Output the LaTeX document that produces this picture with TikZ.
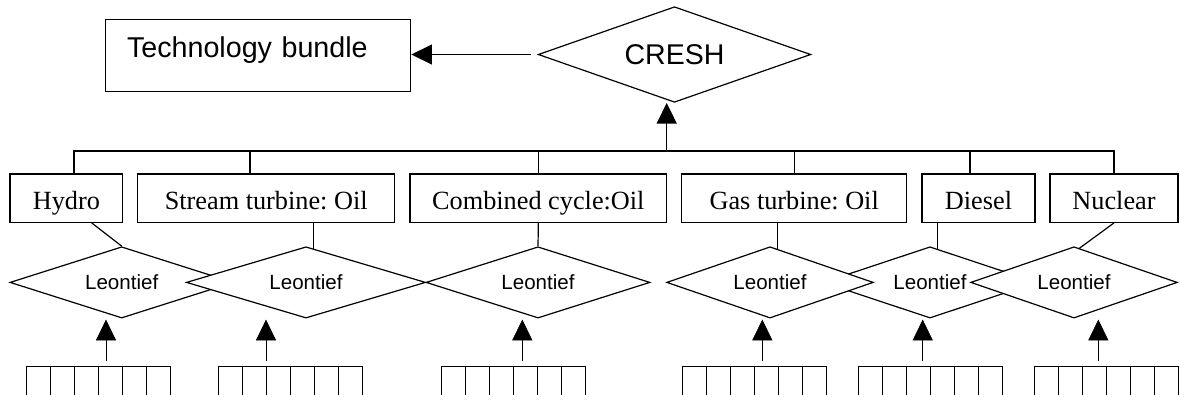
\documentclass[tikz,border=0pt]{standalone}
\usepackage{fontspec}
\setmainfont{Liberation Serif}
\newfontfamily\arialfont{Liberation Sans}
\usetikzlibrary{shapes.geometric,arrows.meta,calc,backgrounds}
\frenchspacing

\begin{document}
\begin{tikzpicture}[x=0.75pt,y=-0.75pt,line width=0.9pt,line join=miter,
    bundle/.style={draw,inner xsep=16pt,text width=196.75pt,align=left,
      minimum height=54.3pt,text depth=12pt,font=\arialfont\fontsize{21.5}{24}\selectfont},
    nest/.style={draw,diamond,shape aspect=2.85,inner sep=0pt,fill=white,
      minimum width=204.5pt,minimum height=71.7pt,font=\arialfont\fontsize{21.4}{24}\selectfont},
    plant/.style={draw,inner sep=0pt,minimum height=36.2pt,text height=18pt,text depth=1.3pt,
      font=\fontsize{19.7}{22}\selectfont},
    leo/.style={draw,diamond,shape aspect=3.1,inner sep=0pt,fill=white,
      minimum height=53.5pt,font=\arialfont\fontsize{15.4}{18}\selectfont},
    link/.style={line width=0.9pt},
    feed/.style={-{Triangle[length=15.5pt,width=15pt]}}]
  \useasboundingbox (0,0) rectangle (1180,394);

  % top level
  \node[bundle] (tech) at (258.2,55.5) {Technology bundle};
  \node[nest] (cresh) at (674.5,54.5) {CRESH};
  \draw[feed,shorten <=5pt] (cresh.west) -- (cresh.west -| tech.east);

  % technologies
  \node[plant,minimum width=84.5pt] (hydro) at (66.35,198.15) {Hydro};
  \node[plant,minimum width=192.75pt] (stream) at (266.2,198.15) {Stream turbine: Oil};
  \node[plant,minimum width=192.5pt] (combined) at (538.35,198.15) {Combined cycle:Oil};
  \node[plant,minimum width=168.75pt] (gas) at (794.2,198.15) {Gas turbine: Oil};
  \node[plant,minimum width=84.75pt] (diesel) at (978.5,198.15) {Diesel};
  \node[plant,minimum width=96pt] (nuclear) at (1114,198.15) {Nuclear};

  \coordinate (j1) at (74,151);
  \coordinate (j2) at (250,151);
  \coordinate (j3) at (538.35,151);
  \coordinate (j4) at (794.2,151);
  \coordinate (j5) at (970,151);
  \coordinate (j6) at (1114,151);
  \coordinate (jc) at (666.7,151);
  \draw (j1 |- hydro.north) -- (j1) -- (j6) -- (j6 |- nuclear.north);
  \draw (j2) -- (j2 |- stream.north);
  \draw (j3) -- (j3 |- combined.north);
  \draw (j4) -- (j4 |- gas.north);
  \draw (j5) -- (j5 |- diesel.north);
  \draw[feed] (jc) -- (jc |- cresh.south);

  % leontief nests
  \node[leo,minimum width=167.6pt] (leo1) at (121.7,282.4) {Leontief};
  \node[leo,minimum width=179.5pt] (leo2) at (306,282.4) {Leontief};
  \node[leo,minimum width=168pt] (leo3) at (538,282.4) {Leontief};
  \node[leo,minimum width=160.5pt] (leo5) at (930,282.4) {Leontief};
  \node[leo,minimum width=155pt] (leo4) at (770,282.4) {Leontief};
  \node[leo,minimum width=155pt] (leo6) at (1074,282.4) {Leontief};

  \begin{pgfonlayer}{background}
    \draw[link] ([xshift=19pt]hydro.south) -- (leo1.north);
    \draw[link] ([xshift=35.3pt]stream.south) -- ++(0,40);
    \draw[link] (combined.south) -- (leo3.north);
    \draw[link] ([xshift=-12.4pt]gas.south) -- ++(0,40);
    \draw[link] ([xshift=-30.6pt]diesel.south) -- ++(0,40);
    \draw[link] (nuclear.south) -- ($(leo6.north)+(0.75pt,-4pt)$);
  \end{pgfonlayer}

  % inputs
  \foreach \k/\x in {1/106,2/266,3/522.3,4/762.3,5/922.7,6/1098.3}{
    \coordinate (in\k) at (\x,360.7);
    \draw[feed,shorten >=0.7pt] (in\k) -- (in\k |- leo\k.south);
  }
  \foreach \c in {26,218.3,441.7,682.3,858.3,1034.3}{
    \draw (\c,395) |- (\c+144,366.7) -- (\c+144,395);
    \foreach \i in {1,...,5} \draw (\c+24*\i,366.7) -- ++(0,29);
  }
\end{tikzpicture}
\end{document}
